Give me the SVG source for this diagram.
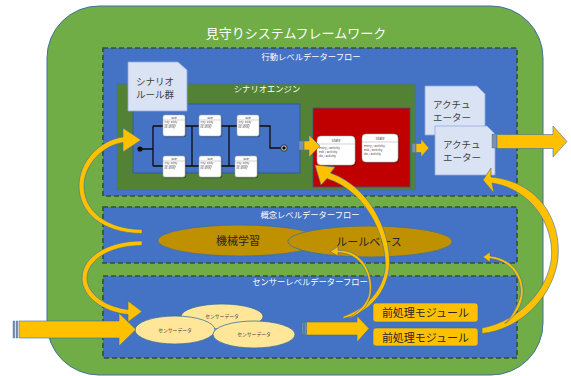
<svg xmlns="http://www.w3.org/2000/svg" width="571" height="376" viewBox="0 0 571 376">
<defs>
<style>
text{font-family:"Noto Sans CJK JP","Noto Sans",sans-serif;}
.lvl{fill:#4472C4;stroke:#3A4D32;stroke-width:1.6;stroke-dasharray:5 3;}
.lbl{font-size:8.3px;fill:#FFFFFF;text-anchor:middle;}
.doc{fill:#DAE3F3;stroke:#8FAADC;stroke-width:0.8;}
.doct{font-size:9.5px;fill:#404040;}
.arr{fill:#FFC000;stroke:#41719C;stroke-width:0.6;}
.stripe{fill:#7F8FB0;stroke:#41719C;stroke-width:0.4;}
.st{fill:#FFFFFF;stroke:#A6A6A6;stroke-width:0.5;}
.sep{stroke:#BFBFBF;stroke-width:0.7;}
.ln{fill:none;stroke:#0D0D0D;stroke-width:1.3;}
.ell{fill:#BF9000;stroke:#41719C;stroke-width:0.8;}
.ellt{font-size:11px;fill:#262626;text-anchor:middle;}
.sd{fill:#FFE699;stroke:#41719C;stroke-width:0.8;}
.sdt{font-size:4.8px;fill:#404040;text-anchor:middle;}
.pre{fill:#FFC000;stroke:#41719C;stroke-width:0.6;}
.pret{font-size:11px;fill:#262626;text-anchor:middle;}
.tiny{fill:#404040;}
</style>
<filter id="sh" x="-20%" y="-20%" width="150%" height="150%">
<feDropShadow dx="0.8" dy="0.8" stdDeviation="0.7" flood-color="#000" flood-opacity="0.45"/>
</filter>
<g id="ss">
<rect class="st" width="22" height="21" rx="2"/>
<line class="sep" x1="0" y1="5" x2="22" y2="5"/>
<text class="tiny" x="11" y="3.7" font-size="2.4" text-anchor="middle">State</text>
<text class="tiny" x="1.5" y="8" font-size="1.9">entry / activity</text>
<text class="tiny" x="1.5" y="10.5" font-size="1.9">exit / activity</text>
<text class="tiny" x="1.5" y="13" font-size="1.9">do / activity</text>
</g>
</defs>

<g id="framework">
<rect x="47" y="6" width="496" height="369" rx="52" fill="#70AD47" stroke="#41719C" stroke-width="1"/>
<text x="296" y="38" font-size="13" fill="#FFFFFF" text-anchor="middle">見守りシステムフレームワーク</text>
</g>

<g id="behavior-level">
<rect class="lvl" x="103" y="48" width="414" height="148"/>
<text class="lbl" x="311" y="60">行動レベルデーターフロー</text>
</g>

<g id="scenario-engine">
<rect x="117" y="84" width="298" height="106" fill="#548235" stroke="#41719C" stroke-width="0.8"/>
<text class="lbl" x="267" y="92">シナリオエンジン</text>
</g>

<g id="state-machine">
<rect x="133" y="104" width="167" height="69" fill="#4472C4" stroke="#2F5597" stroke-width="0.8"/>
<path class="ln" d="M140,149 H153 M153,126 V166 M153,126 H164 M153,166 H164 M185,126 H200 M192,126 V166 M185,166 H200 M221,126 H238 M229,126 V166 M221,166 H236 M258,126 H270 V148 H282"/>
<circle cx="140" cy="149" r="2.6" fill="#0D0D0D"/>
<circle cx="284" cy="148" r="3.2" fill="#D9D9D9" stroke="#0D0D0D" stroke-width="0.8"/>
<circle cx="284" cy="148" r="1.8" fill="#0D0D0D"/>
<g filter="url(#sh)">
<use href="#ss" x="163" y="115"/>
<use href="#ss" x="199" y="115"/>
<use href="#ss" x="237" y="115"/>
<use href="#ss" x="163" y="156"/>
<use href="#ss" x="199" y="156"/>
<use href="#ss" x="235" y="156"/>
</g>
</g>

<g id="scenario-rules">
<path class="doc" d="M128,62 H178 L187,70 V111 H128 Z"/>
<text class="doct" x="136" y="85">シナリオ</text>
<text class="doct" x="136" y="98">ルール群</text>
</g>

<g id="red-block">
<rect x="313" y="108" width="97" height="79" fill="#C00000" stroke="#2F5597" stroke-width="0.8"/>
<g filter="url(#sh)">
<rect class="st" x="317" y="136" width="38" height="29" rx="4"/>
<rect class="st" x="362" y="134" width="36" height="28" rx="4"/>
</g>
<line class="sep" x1="317" y1="144" x2="355" y2="144"/>
<line class="sep" x1="362" y1="142" x2="398" y2="142"/>
<text class="tiny" x="336" y="142" font-size="3.8" text-anchor="middle">State</text>
<text class="tiny" x="319" y="149" font-size="3.1">entry / activity</text>
<text class="tiny" x="319" y="153" font-size="3.1">exit / activity</text>
<text class="tiny" x="319" y="157" font-size="3.1">do / activity</text>
<text class="tiny" x="380" y="140" font-size="3.8" text-anchor="middle">State</text>
<text class="tiny" x="364" y="147" font-size="3.1">entry / activity</text>
<text class="tiny" x="364" y="151" font-size="3.1">exit / activity</text>
<text class="tiny" x="364" y="155" font-size="3.1">do / activity</text>
</g>

<g id="actuator-1">
<path class="doc" d="M425,86 H477 L485,94 V135 H425 Z"/>
<text class="doct" x="433" y="108">アクチュ</text>
<text class="doct" x="433" y="121">エーター</text>
</g>
<g id="actuator-2">
<path class="doc" d="M435,126 H487 L495,134 V175 H435 Z"/>
<text class="doct" x="443" y="148">アクチュ</text>
<text class="doct" x="443" y="161">エーター</text>
</g>

<g id="concept-level">
<rect class="lvl" x="103" y="207" width="414" height="56"/>
<text class="lbl" x="310" y="218">概念レベルデーターフロー</text>
</g>
<g id="machine-learning">
<ellipse class="ell" cx="240" cy="240.5" rx="82" ry="15.5"/>
<text class="ellt" x="238" y="245">機械学習</text>
</g>
<g id="rule-base">
<ellipse class="ell" cx="370" cy="241.5" rx="82" ry="15.5"/>
<text class="ellt" x="369" y="245.5">ルールベース</text>
</g>

<g id="sensor-level">
<rect class="lvl" x="103" y="276" width="414" height="82"/>
<text class="lbl" x="310" y="285">センサーレベルデーターフロー</text>
</g>
<g id="sensor-data-1">
<ellipse class="sd" cx="222" cy="316.5" rx="41" ry="12.5"/>
<text class="sdt" x="222" y="318">センサーデータ</text>
</g>
<g id="sensor-data-2">
<ellipse class="sd" cx="175" cy="330" rx="40" ry="14"/>
<text class="sdt" x="175" y="332">センサーデータ</text>
</g>
<g id="sensor-data-3">
<ellipse class="sd" cx="254" cy="334.5" rx="41" ry="13.5"/>
<text class="sdt" x="254" y="336">センサーデータ</text>
</g>
<g id="preprocess-1">
<rect class="pre" x="373" y="303" width="105" height="19" rx="3"/>
<text class="pret" x="425.5" y="317">前処理モジュール</text>
</g>
<g id="preprocess-2">
<rect class="pre" x="373" y="328" width="105" height="18" rx="3"/>
<text class="pret" x="425.5" y="341.5">前処理モジュール</text>
</g>

<g id="connectors">
<rect class="stripe" x="13" y="321" width="1.8" height="17"/>
<rect class="stripe" x="16" y="321" width="1.8" height="17"/>
<path class="arr" d="M19,321 H119 V313 L136,329.5 L119,346 V338 H19 Z"/>
<rect class="stripe" x="302" y="322" width="1.6" height="13"/>
<rect class="stripe" x="304.5" y="322" width="1.6" height="13"/>
<path class="arr" d="M306.5,322 H357 V316 L369,328.5 L357,342 V335 H306.5 Z"/>
<rect class="stripe" x="299" y="141" width="5" height="9"/>
<path class="arr" d="M304,141 H309 V135 L320,146 L309,157 V150 H304 Z"/>
<rect class="stripe" x="412" y="143.5" width="4" height="9"/>
<path class="arr" d="M416,143.5 H421 V139 L429,148 L421,157 V152.5 H416 Z"/>
<rect class="stripe" x="492" y="134" width="5" height="14"/>
<path class="arr" d="M497,134.5 H553 V126 L567,141.5 L553,157 V148.5 H497 Z"/>
<path class="arr" d="M142,233.5 C101,233 79,212 79,186 C79,161 100,140 123,137 L123,128 L141,140 L123,152 L123,142.5 C104,145 84,164 84,186 C84,209 104,229 142,229.5 Z"/>
<path class="arr" d="M142,241 C106,241 82,258 82,278 C82,297 103,312 128,314.5 L128,322 L142,311.5 L128,301 L128,309.5 C107,307 87,295 87,278 C87,262 107,245.5 142,245.5 Z"/>
<path class="arr" d="M343,318.5 C366,314 385,296 389,270 C393,241 375,189 330.5,173 L335,167 L315,165 L321,185 L327,178.5 C369,192 388,242 385,270 C381,294 363,310 343,316.5 Z"/>
<path class="arr" d="M338,250.3 C363,249.5 375,275 370.5,296 C367,309 357,316 347,319 C355,314 364,308 368.5,296 C372.5,277 362,253 338,252.5 L338,256 L330,251.5 L338,246.5 Z"/>
<path class="arr" d="M491,177 C544,182 564,228 557,265 C549,302 517,330 482,333.5 L482,328 C513,322 543,298 550.5,264 C557,233 536,190 492,183 L494,193 L483,180 L491,168 Z"/>
<path class="arr" d="M490,256 C515,258.5 526,280 522.5,298 C520,310 513,318 505,323.5 C511,318 516,309 520,297 C523,281 513,261 490,258.5 L490,262 L483,257 L490,252 Z"/>
</g>
</svg>
